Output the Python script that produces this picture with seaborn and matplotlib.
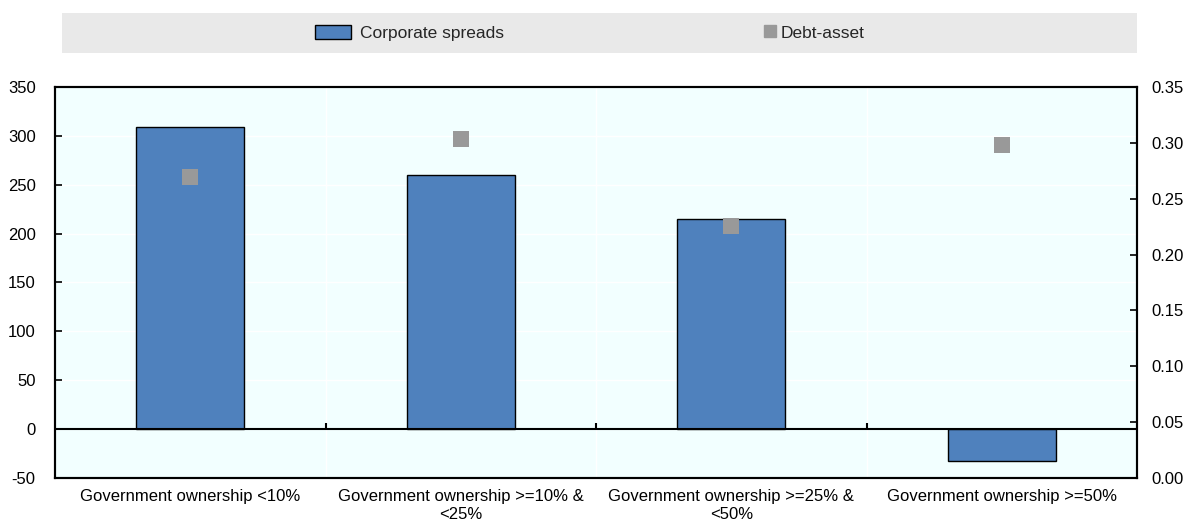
import matplotlib
matplotlib.use('Agg')
import matplotlib.pyplot as plt
import matplotlib.patches as mpatches
from matplotlib.lines import Line2D
import seaborn as sns

# 数据
categories = ['Government ownership <10%',
              'Government ownership >=10% &\n<25%',
              'Government ownership >=25% &\n<50%',
              'Government ownership >=50%']
spreads = [309, 260, 215, -33]
debt_asset = [0.269, 0.303, 0.226, 0.298]

bar_color = '#4f81bd'
pt_color = '#999999'

sns.set_theme(style='white')
plt.rcParams['font.family'] = ['Liberation Sans', 'DejaVu Sans']
plt.rcParams['font.size'] = 12
plt.rcParams['axes.unicode_minus'] = False

fig = plt.figure(figsize=(11.86, 5.23), dpi=100)
ax = fig.add_axes([0.0464, 0.086, 0.9123, 0.7477])
ax.set_facecolor('#f2ffff')

# 柱状图
sns.barplot(x=categories, y=spreads, color=bar_color, saturation=1,
            width=0.4, edgecolor='black', linewidth=1, ax=ax)

# 右轴散点
ax2 = ax.twinx()
sns.stripplot(x=categories, y=debt_asset, jitter=False, marker='s',
              size=11, color=pt_color, linewidth=0, ax=ax2, zorder=5)

ax.set_xlim(-0.5, 3.5)
ax.set_ylim(-50, 350)
ax.set_yticks(range(-50, 351, 50))
ax2.set_ylim(0, 0.35)
ax2.set_yticks([i * 0.05 for i in range(8)])
ax2.set_yticklabels([f'{i * 0.05:.2f}' for i in range(8)])

ax.set_xticks(range(4))
ax.set_xticklabels(categories)
ax.set_xticks([0.5, 1.5, 2.5], minor=True)
ax.tick_params(axis='x', which='both', length=0, pad=8, labelsize=12, colors='black')
ax.tick_params(axis='y', direction='in', length=5, width=1.2, pad=14, labelsize=12, colors='black')
ax2.tick_params(axis='y', direction='in', length=5, width=1.2, pad=10, labelsize=12, colors='black')
ax.set_xlabel('')
ax.set_ylabel('')
ax2.set_ylabel('')

# 白色网格
ax.grid(True, axis='y', which='major', color='white', lw=1)
ax.grid(True, axis='x', which='minor', color='white', lw=1)
ax.grid(False, axis='x', which='major')
ax.set_axisbelow(True)
ax2.grid(False)

# 零线和分隔刻度
ax.axhline(0, color='black', lw=1.5, zorder=3)
ax.vlines([0.5, 1.5, 2.5], 0, 6, color='black', lw=1.5, zorder=3)

for a in (ax, ax2):
    for s in a.spines.values():
        s.set_visible(True)
        s.set_color('black')
        s.set_linewidth(1.5)

# 图例背景
fig.patches.append(mpatches.Rectangle((0.0523, 0.8987), 0.9064, 0.0765,
                                      transform=fig.transFigure,
                                      facecolor='#e9e9e9', edgecolor='none', zorder=0))
# 两个图例分开放，便于控制各自的位置
h1 = mpatches.Patch(facecolor=bar_color, edgecolor='black', linewidth=1)
h2 = Line2D([], [], marker='s', color=pt_color, linestyle='none', markersize=8)
leg1 = fig.legend([h1], ['Corporate spreads'], loc='center left',
                  bbox_to_anchor=(0.2656, 0.937), frameon=False, fontsize=12.5,
                  borderpad=0, borderaxespad=0,
                  handlelength=2.1, handleheight=0.9, handletextpad=0.5)
fig.legend([h2], ['Debt-asset'], loc='center left',
           bbox_to_anchor=(0.643, 0.937), frameon=False, fontsize=12.5,
           borderpad=0, borderaxespad=0,
           handlelength=0.8, handletextpad=0.25)

plt.savefig('out.png', dpi=100)
